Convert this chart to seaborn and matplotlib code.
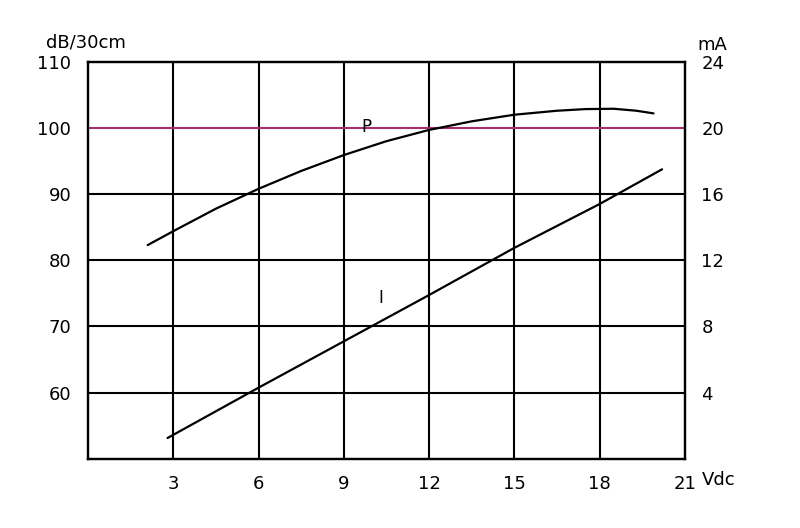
import numpy as np
import pandas as pd
import matplotlib.pyplot as plt
import seaborn as sns

# values
p_volts = [2.1, 3, 4.5, 6, 7.5, 9, 10.5, 12, 13.5, 15, 16.5, 17.5, 18.5, 19.3, 19.9]
p_db = [82.3, 84.4, 87.8, 90.8, 93.5, 95.9, 98.0, 99.7, 101.0, 102.0, 102.6, 102.85, 102.9, 102.6, 102.2]

i_volts = [2.8, 6, 9, 12, 15, 18, 20.2]
i_ma = [1.26, 4.3, 7.1, 9.9, 12.75, 15.4, 17.5]

x_ticks = [3, 6, 9, 12, 15, 18, 21]
db_ticks = [60, 70, 80, 90, 100, 110]
ma_ticks = [4, 8, 12, 16, 20, 24]

sns.set_style('white')
plt.rcParams['font.family'] = ['DejaVu Sans']
plt.rcParams['text.color'] = 'black'
plt.rcParams['xtick.color'] = 'black'
plt.rcParams['ytick.color'] = 'black'

fig = plt.figure(figsize=(8, 5.28), dpi=100)
ax = fig.add_axes([0.11, 0.131, 0.746, 0.752])
ax2 = ax.twinx()

df_p = pd.DataFrame({'V': p_volts, 'dB': p_db})
df_i = pd.DataFrame({'V': i_volts, 'mA': i_ma})

# grid drawn by hand so the 100 dB line can carry its tint
for v in x_ticks[:-1]:
    ax.axvline(v, color='black', lw=1.5, zorder=1)
for d in db_ticks[:-1]:
    ax.axhline(d, color='#a0306e' if d == 100 else 'black', lw=1.5, zorder=1)

sns.lineplot(data=df_p, x='V', y='dB', ax=ax, color='black', lw=1.6, zorder=3)
sns.lineplot(data=df_i, x='V', y='mA', ax=ax2, color='black', lw=1.6, zorder=3)

ax.set_xlim(0, 21)
ax.set_ylim(50, 110)
ax2.set_ylim(0, 24)
ax.set_xticks(x_ticks)
ax.set_yticks(db_ticks)
ax2.set_yticks(ma_ticks)

for a in (ax, ax2):
    a.set_xlabel('')
    a.set_ylabel('')
    a.tick_params(length=0, labelsize=13, pad=12, colors='black')
    for s in a.spines.values():
        s.set_color('black')
        s.set_linewidth(1.6)

ax.text(9.8, 100.2, 'P', fontsize=12, ha='center', va='center')
ax2.text(10.3, 9.7, 'I', fontsize=12, ha='center', va='center')

fig.text(0.107, 0.92, 'dB/30cm', fontsize=13, ha='center', va='center')
fig.text(0.89, 0.915, 'mA', fontsize=13, ha='center', va='center')
fig.text(0.898, 0.09, 'Vdc', fontsize=13, ha='center', va='center')

fig.savefig('out.png', dpi=100)
